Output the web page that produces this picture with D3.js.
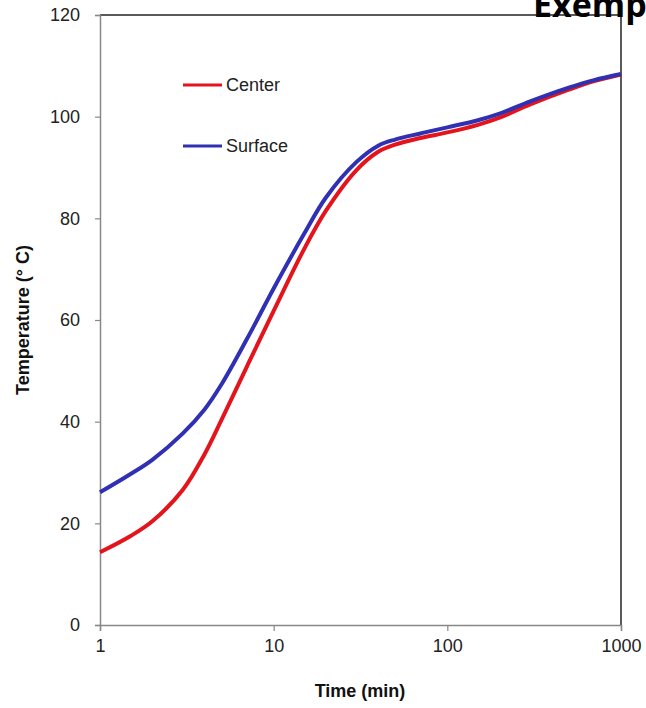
<!DOCTYPE html>
<html>
<head>
<meta charset="utf-8">
<script src="https://cdn.jsdelivr.net/npm/d3@7"></script>
<style>
  body { margin: 0; background: #fff; }
  svg { display: block; font-family: "Liberation Sans", Arial, sans-serif; }
</style>
</head>
<body>
<svg id="chart" width="646" height="708"></svg>
<script>
// temps de cuisson (min) et températures
var times = [1, 1.5, 2, 3, 4, 5, 7, 10, 15, 20, 30, 40, 50, 70, 100, 150, 200, 300, 500, 700, 1000];
var center = [14.3, 17.5, 20.4, 26.6, 33.6, 40.3, 50.8, 61.8, 74.0, 81.5, 89.5, 93.1, 94.5, 95.8, 96.9, 98.4, 99.8, 102.4, 105.3, 107.0, 108.3];
var surface = [26.1, 29.7, 32.5, 37.7, 42.4, 47.3, 56.2, 66.2, 77.0, 84.1, 91.1, 94.3, 95.5, 96.7, 97.9, 99.3, 100.6, 103.0, 105.7, 107.2, 108.4];
var xTicks = [1, 10, 100, 1000];
var yTicks = [0, 20, 40, 60, 80, 100, 120];

var series = [
  {name: "Center", values: center, color: "#e3141b"},
  {name: "Surface", values: surface, color: "#3030b4"}
];

// zone du graphe (attention: "top" est réservé dans window)
var plotL = 100, plotR = 621, plotT = 15, plotB = 625;

var svg = d3.select("#chart");

var x = d3.scaleLog().domain([1, 1000]).range([plotL, plotR]);
var y = d3.scaleLinear().domain([0, 120]).range([plotB, plotT]);

// cadre haut / droite
svg.append("line")
  .attr("x1", plotL).attr("x2", plotR).attr("y1", plotT).attr("y2", plotT)
  .attr("stroke", "#222").attr("stroke-width", 1.5);
svg.append("line")
  .attr("x1", plotR).attr("x2", plotR).attr("y1", plotT).attr("y2", plotB)
  .attr("stroke", "#222").attr("stroke-width", 1.5);

// axes
var gx = svg.append("g")
  .attr("transform", "translate(0," + plotB + ")")
  .call(d3.axisBottom(x).tickValues(xTicks).tickFormat(d3.format("d")).tickSize(6).tickPadding(8));
var gy = svg.append("g")
  .attr("transform", "translate(" + plotL + ",0)")
  .call(d3.axisLeft(y).tickValues(yTicks).tickSize(5).tickPadding(15));

[gx, gy].forEach(function(g) {
  g.select(".domain").attr("stroke", "#888").attr("stroke-width", 1.5);
  g.selectAll(".tick line").attr("stroke", "#888").attr("stroke-width", 1.2);
  g.selectAll(".tick text").attr("fill", "#222").style("font-size", "18px")
    .style("font-family", "'Liberation Sans', Arial, sans-serif");
});

// courbes lissées
var line = d3.line()
  .x(function(d) { return x(d[0]); })
  .y(function(d) { return y(d[1]); })
  .curve(d3.curveCatmullRom.alpha(0.5));

series.forEach(function(s) {
  var pts = times.map(function(t, i) { return [t, s.values[i]]; });
  svg.append("path")
    .datum(pts)
    .attr("d", line)
    .attr("fill", "none")
    .attr("stroke", s.color)
    .attr("stroke-width", 4)
    .attr("stroke-linejoin", "round");
});

// légende
var legend = svg.selectAll(".legend")
  .data(series)
  .enter().append("g")
  .attr("transform", function(d, i) { return "translate(183," + (85 + i * 61) + ")"; });
legend.append("line")
  .attr("x1", 0).attr("x2", 39)
  .attr("stroke", function(d) { return d.color; })
  .attr("stroke-width", 3);
legend.append("text")
  .attr("x", 43).attr("y", 0).attr("dy", "0.35em")
  .style("font-size", "18px").attr("fill", "#222")
  .text(function(d) { return d.name; });

// titres des axes
svg.append("text")
  .attr("x", 360).attr("y", 697)
  .attr("text-anchor", "middle")
  .style("font-size", "18px").style("font-weight", "bold").attr("fill", "#111")
  .text("Time (min)");
svg.append("text")
  .attr("transform", "translate(29,320) rotate(-90)")
  .attr("text-anchor", "middle")
  .style("font-size", "18px").style("font-weight", "bold").attr("fill", "#111")
  .text("Temperature (° C)");

// titre (coupé par le bord)
svg.append("text")
  .attr("x", 533).attr("y", 17)
  .style("font-family", "'Open Sans', sans-serif")
  .style("font-size", "34px").style("font-weight", "bold").attr("fill", "#000")
  .text("Exemplo");
</script>
</body>
</html>
